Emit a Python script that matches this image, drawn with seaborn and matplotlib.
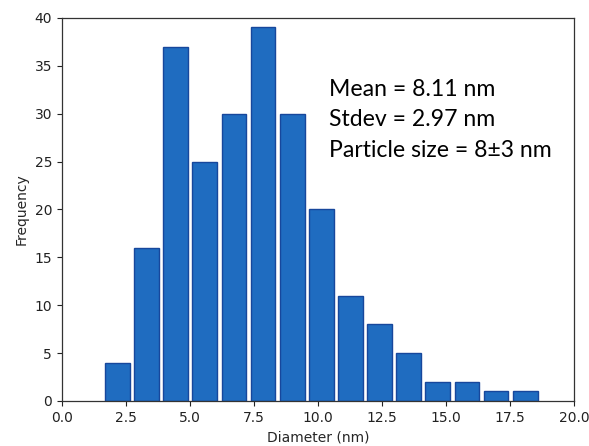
import matplotlib
matplotlib.use("Agg")
import matplotlib.pyplot as plt
import seaborn as sns
import numpy as np
import pandas as pd

# Data
bin_start = 1.6
bin_end = 18.65
counts = [4, 16, 37, 25, 30, 39, 30, 20, 11, 8, 5, 2, 2, 1, 1]
x_ticks = [0.0, 2.5, 5.0, 7.5, 10.0, 12.5, 15.0, 17.5, 20.0]
y_ticks = [0, 5, 10, 15, 20, 25, 30, 35, 40]
annotation = ["Mean = 8.11 nm", "Stdev = 2.97 nm", "Particle size = 8±3 nm"]

edges = np.linspace(bin_start, bin_end, len(counts) + 1)
centers = (edges[:-1] + edges[1:]) / 2
df = pd.DataFrame({"diameter": centers, "count": counts})

sns.set_style("ticks")
plt.rcParams["font.family"] = ["DejaVu Sans"]

fig = plt.figure(figsize=(5.89, 4.46), dpi=100)
ax = fig.add_axes([0.105, 0.101, 0.870, 0.859])

sns.histplot(data=df, x="diameter", weights="count", bins=list(edges),
             shrink=0.85, color="#1f6cc0", edgecolor="#17479c",
             linewidth=1.0, alpha=1.0, ax=ax)

ax.set_xlim(0, 20)
ax.set_ylim(0, 40)
ax.set_xticks(x_ticks)
ax.set_xticklabels([f"{t:.1f}" for t in x_ticks])
ax.set_yticks(y_ticks)
for s in ax.spines.values():
    s.set_visible(True)
    s.set_color("#333333")
    s.set_linewidth(0.9)
ax.tick_params(labelsize=10, colors="#222222", length=3.5)
ax.set_xlabel("Diameter (nm)", fontsize=10)
ax.set_ylabel("Frequency", fontsize=10)

ys = [0.797, 0.717, 0.638]
for txt, yy in zip(annotation, ys):
    ax.text(0.522, yy, txt, transform=ax.transAxes, fontsize=16.6,
            family=["Lato", "DejaVu Sans"], color="#000000", va="baseline")

fig.savefig("out.png", dpi=100)
